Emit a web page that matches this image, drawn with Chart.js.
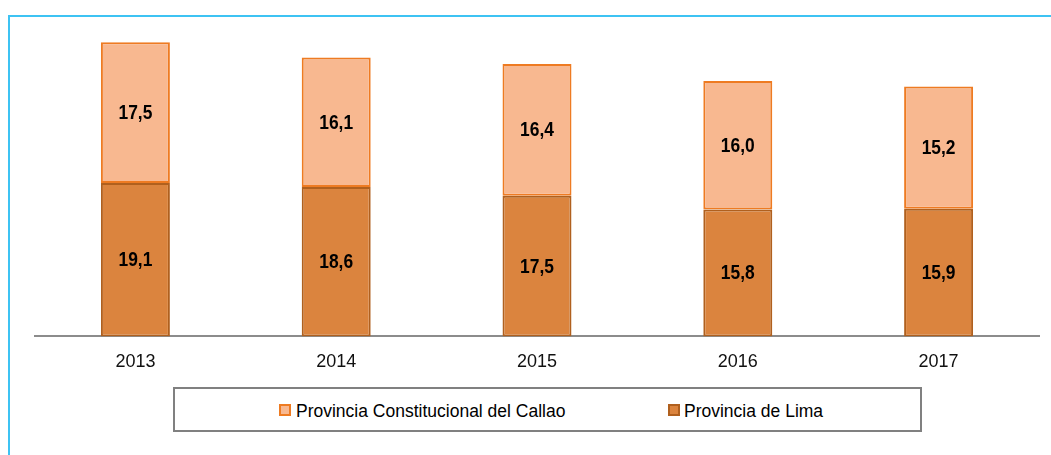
<!DOCTYPE html>
<html>
<head>
<meta charset="utf-8">
<script src="https://cdn.jsdelivr.net/npm/chart.js@4.4.0/dist/chart.umd.min.js"></script>
<style>
  html, body { margin: 0; padding: 0; background: #fff; }
  #wrap { position: relative; width: 1051px; height: 455px; overflow: hidden; background: #fff; }
  #frame { position: absolute; left: 8px; top: 15px; width: 1100px; height: 500px; border-left: 2px solid #3EC3F3; border-top: 2px solid #3EC3F3; box-sizing: border-box; }
  #cwrap { position: absolute; left: 0; top: 0; width: 1051px; height: 388px; }
  #legend { position: absolute; left: 173px; top: 387px; width: 749px; height: 45px; border: 2px solid #808080; box-sizing: border-box; background: #fff; }
  .sw { position: absolute; width: 12px; height: 12px; box-sizing: border-box; border: 2px solid; }
  .lt { position: absolute; font-family: 'Liberation Sans', Arial, sans-serif; font-size: 17.5px; line-height: 20px; color: #000; white-space: nowrap; }
</style>
</head>
<body>
<div id="wrap">
  <div id="frame"></div>
  <div id="cwrap"><canvas id="c"></canvas></div>
  <div id="legend"></div>
</div>
<script>
const categories = ['2013', '2014', '2015', '2016', '2017'];
const limaValues = [19.1, 18.6, 17.5, 15.8, 15.9];
const callaoValues = [17.5, 16.1, 16.4, 16.0, 15.2];
const seriesNames = ['Provincia de Lima', 'Provincia Constitucional del Callao'];

const FONT = "'Liberation Sans', Arial, sans-serif";
const fmt = v => v.toFixed(1).replace('.', ',');

const labelPlugin = {
  id: 'barLabels',
  afterDatasetsDraw(chart) {
    const ctx = chart.ctx;
    chart.data.datasets.forEach((ds, i) => {
      const meta = chart.getDatasetMeta(i);
      meta.data.forEach((bar, j) => {
        const y = (bar.y + bar.base) / 2;
        ctx.save();
        ctx.translate(bar.x, y + 1);
        ctx.scale(0.87, 1);
        ctx.font = "bold 20px " + FONT;
        ctx.fillStyle = '#000';
        ctx.textAlign = 'center';
        ctx.textBaseline = 'middle';
        ctx.fillText(fmt(ds.data[j]), 0, 0);
        ctx.restore();
      });
    });
  }
};

const chart = new Chart(document.getElementById('c'), {
  type: 'bar',
  data: {
    labels: categories,
    datasets: [
      { label: seriesNames[0], data: limaValues, backgroundColor: '#DB843E', borderColor: '#B0601E', borderWidth: 2, borderSkipped: false },
      { label: seriesNames[1], data: callaoValues, backgroundColor: '#F8B890', borderColor: '#EE7B22', borderWidth: 2, borderSkipped: false }
    ]
  },
  options: {
    responsive: true,
    maintainAspectRatio: false,
    animation: false,
    events: [],
    layout: { padding: { left: 35, right: 12, top: 15, bottom: 0 } },
    datasets: { bar: { barPercentage: 1, categoryPercentage: 0.3436 } },
    plugins: { legend: { display: false }, tooltip: { enabled: false } },
    scales: {
      x: {
        stacked: true,
        grid: { display: false, drawTicks: false },
        border: { display: true, color: '#8C8C8C', width: 2 },
        ticks: { color: '#111', font: { family: FONT, size: 18 }, padding: 15 }
      },
      y: {
        stacked: true,
        display: false,
        min: 0,
        max: 40
      }
    }
  },
  plugins: [labelPlugin]
});

// Legend (order as in the reference: Callao first, then Lima)
const legendItems = [
  { name: seriesNames[1], fill: '#F8B890', border: '#EE7B22', sx: 104, tx: 121 },
  { name: seriesNames[0], fill: '#DB843E', border: '#B0601E', sx: 493, tx: 509 }
];
const leg = document.getElementById('legend');
legendItems.forEach(it => {
  const s = document.createElement('span');
  s.className = 'sw';
  s.style.left = it.sx + 'px';
  s.style.top = '15px';
  s.style.background = it.fill;
  s.style.borderColor = it.border;
  leg.appendChild(s);
  const t = document.createElement('span');
  t.className = 'lt';
  t.style.left = it.tx + 'px';
  t.style.top = '12px';
  t.textContent = it.name;
  leg.appendChild(t);
});
</script>
</body>
</html>
